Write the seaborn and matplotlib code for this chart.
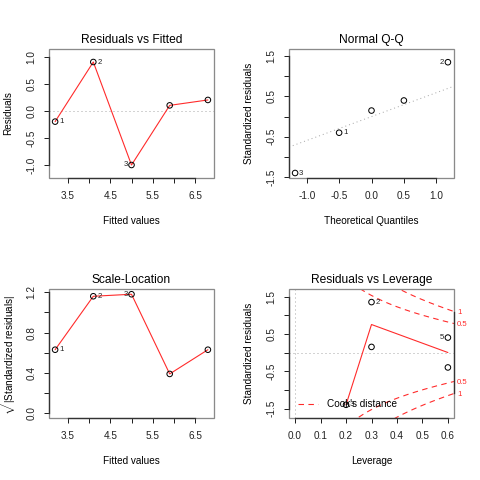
import numpy as np
import pandas as pd
import matplotlib
matplotlib.use("Agg")
import matplotlib.pyplot as plt
import seaborn as sns
from matplotlib.patches import Rectangle

# ---------------- data ----------------
obs_id = ["1", "2", "3", "4", "5"]
fitted = [3.2, 4.1, 5.0, 5.9, 6.8]
residuals = [-0.2, 0.9, -1.0, 0.1, 0.2]
std_resid = [-0.40, 1.35, -1.40, 0.15, 0.40]
sqrt_abs_std_resid = [0.63, 1.16, 1.18, 0.39, 0.63]
leverage = [0.6, 0.3, 0.2, 0.3, 0.6]
theor_quantiles = [-1.18, -0.50, 0.0, 0.50, 1.18]
qq_sample = [-1.40, -0.40, 0.15, 0.40, 1.35]
qq_id = ["3", "1", "4", "5", "2"]
lev_smooth_x = [0.2, 0.3, 0.6]
lev_smooth_y = [-1.40, 0.75, 0.0]
cook_levels = [0.5, 1.0]
cook_labels = ["0.5", "1"]
n_params = 2

titles = ["Residuals vs Fitted", "Normal Q-Q", "Scale-Location", "Residuals vs Leverage"]
fit_xticks = [3.5, 4.0, 4.5, 5.0, 5.5, 6.0, 6.5]
fit_xticklabels = ["3.5", "", "4.5", "", "5.5", "", "6.5"]
res_yticks = [-1.0, -0.5, 0.0, 0.5, 1.0]
res_yticklabels = ["-1.0", "-0.5", "0.0", "0.5", "1.0"]
std_yticks = [-1.5, -1.0, -0.5, 0.0, 0.5, 1.0, 1.5]
std_yticklabels = ["-1.5", "", "-0.5", "", "0.5", "", "1.5"]
qq_xticks = [-1.0, -0.5, 0.0, 0.5, 1.0]
qq_xticklabels = ["-1.0", "-0.5", "0.0", "0.5", "1.0"]
sl_yticks = [0.0, 0.2, 0.4, 0.6, 0.8, 1.0, 1.2]
sl_yticklabels = ["0.0", "", "0.4", "", "0.8", "", "1.2"]
lev_xticks = [0.0, 0.1, 0.2, 0.3, 0.4, 0.5, 0.6]
lev_xticklabels = ["0.0", "0.1", "0.2", "0.3", "0.4", "0.5", "0.6"]

# ---------------- style ----------------
sns.set_theme(style="white")
plt.rcParams["font.family"] = ["Liberation Sans", "DejaVu Sans"]
plt.rcParams["mathtext.fontset"] = "custom"
plt.rcParams["mathtext.rm"] = "Liberation Sans"
plt.rcParams["mathtext.it"] = "Liberation Sans:italic"
plt.rcParams["mathtext.bf"] = "Liberation Sans:bold"

PX = 0.72  # points per pixel at dpi 100
FS = 10 * PX
FS_TITLE = 12 * PX
FS_ID = 7.8 * PX
RED = "#ff2a2a"
GRAY = "#a8a8a8"

W = H = 480.0
fig = plt.figure(figsize=(4.8, 4.8), dpi=100)
fig.patch.set_facecolor("white")

BW, BH = 165.0, 129.0


def add_ax(left, top):
    return fig.add_axes([left / W, 1 - (top + BH) / H, BW / W, BH / H])


def style(ax, xlim, ylim, xticks, xtl, yticks, ytl, title, xlabel, ylabel):
    ax.set_facecolor("white")
    ax.set_xlim(xlim)
    ax.set_ylim(ylim)
    ax.set_xticks(xticks)
    ax.set_xticklabels(xtl)
    ax.set_yticks(yticks)
    ax.set_yticklabels(ytl, rotation=90, va="center")
    ax.tick_params(axis="both", which="both", direction="out", length=5 * PX,
                   width=1.0 * PX, color="#222222", pad=7.6 * PX,
                   labelsize=FS, labelcolor="#222222",
                   bottom=True, left=True, top=False, right=False)
    for s in ["top", "right"]:
        ax.spines[s].set_visible(False)
    for s in ["left", "bottom"]:
        ax.spines[s].set_color("#333333")
        ax.spines[s].set_linewidth(1.3 * PX)
        ax.spines[s].set_zorder(3)
    ax.spines["left"].set_bounds(yticks[0], yticks[-1])
    ax.spines["bottom"].set_bounds(xticks[0], xticks[-1])
    ax.add_patch(Rectangle((0, 0), 1, 1, transform=ax.transAxes, fill=False,
                           ec="#8a8a8a", lw=1.3 * PX, clip_on=False, zorder=2.4))
    ax.set_title(title, fontsize=FS_TITLE, y=1 + 9 / BH, va="center", pad=0,
                 color="black")
    ax.set_xlabel(xlabel, fontsize=FS, color="black")
    ax.set_ylabel(ylabel, fontsize=FS, color="black")
    ax.xaxis.set_label_coords(0.5, (178 - 221) / BH)
    ax.xaxis.label.set_va("center")
    ax.yaxis.set_label_coords((8.5 - 49) / BW, 0.5)
    ax.yaxis.label.set_va("center")
    ax.grid(False)


def points(ax, x, y):
    sns.scatterplot(x=x, y=y, ax=ax, marker="o", s=16, facecolor="none",
                    edgecolor="black", linewidth=1.0 * PX, zorder=5, legend=False)


def label_points(ax, x, y, labels, sides):
    for xi, yi, lab, side in zip(x, y, labels, sides):
        dx = 2.8 if side == "r" else -2.8
        ax.annotate(lab, (xi, yi), xytext=(dx, 0), textcoords="offset points",
                    ha="left" if side == "r" else "right", va="center",
                    fontsize=FS_ID, color="#222222", zorder=6,
                    annotation_clip=False)


# ---------- Panel 1: Residuals vs Fitted ----------
ax1 = add_ax(49, 49)
ax1.axhline(0, color=GRAY, lw=1.0 * PX, ls=(0, (1, 3)), zorder=1)
sns.lineplot(x=fitted, y=residuals, ax=ax1, color=RED, lw=1.1 * PX, sort=False,
             estimator=None, zorder=4)
points(ax1, fitted, residuals)
lab_idx1 = [0, 1, 2]
label_points(ax1, [fitted[i] for i in lab_idx1], [residuals[i] for i in lab_idx1],
             [obs_id[i] for i in lab_idx1], ["r", "r", "l"])
style(ax1, (3.056, 6.944), (-1.24, 1.14), fit_xticks, fit_xticklabels,
      res_yticks, res_yticklabels, titles[0], "Fitted values", "Residuals")

# ---------- Panel 2: Normal Q-Q ----------
ax2 = add_ax(289, 49)
q25, q75 = np.percentile(qq_sample, [25, 75])
slope = (q75 - q25) / (2 * 0.6744898)
icpt = q25 + slope * 0.6744898
xl = np.array([-1.274, 1.274])
ax2.plot(xl, icpt + slope * xl, color=GRAY, lw=1.0 * PX, ls=(0, (1, 3)), zorder=1)
points(ax2, theor_quantiles, qq_sample)
lab_idx2 = [0, 1, 4]
label_points(ax2, [theor_quantiles[i] for i in lab_idx2], [qq_sample[i] for i in lab_idx2],
             [qq_id[i] for i in lab_idx2], ["r", "r", "l"])
style(ax2, (-1.274, 1.274), (-1.524, 1.678), qq_xticks, qq_xticklabels,
      std_yticks, std_yticklabels, titles[1], "Theoretical Quantiles",
      "Standardized residuals")

# ---------- Panel 3: Scale-Location ----------
ax3 = add_ax(49, 289)
sns.lineplot(x=fitted, y=sqrt_abs_std_resid, ax=ax3, color=RED, lw=1.1 * PX,
             sort=False, estimator=None, zorder=4)
points(ax3, fitted, sqrt_abs_std_resid)
lab_idx3 = [0, 1, 2]
label_points(ax3, [fitted[i] for i in lab_idx3], [sqrt_abs_std_resid[i] for i in lab_idx3],
             [obs_id[i] for i in lab_idx3], ["r", "r", "l"])
style(ax3, (3.056, 6.944), (-0.047, 1.232), fit_xticks, fit_xticklabels,
      sl_yticks, sl_yticklabels, titles[2], "Fitted values",
      r"$\sqrt{|\mathrm{Standardized\ residuals}|}$")

# ---------- Panel 4: Residuals vs Leverage ----------
ax4 = add_ax(289, 289)
xlim4 = (-0.024, 0.624)
ylim4 = (-1.754, 1.701)
ax4.axhline(0, color=GRAY, lw=1.0 * PX, ls=(0, (1, 3)), zorder=1)
ax4.axvline(0, color=GRAY, lw=1.0 * PX, ls=(0, (1, 3)), zorder=1)
hh = np.linspace(0.003, xlim4[1], 200)
for k, lev in enumerate(cook_levels):
    cl = np.sqrt(lev * n_params * (1 - hh) / hh)
    ax4.plot(hh, cl, color=RED, lw=1.1 * PX, ls=(0, (5, 4)), zorder=2,
             label="Cook's distance" if k == 0 else None)
    ax4.plot(hh, -cl, color=RED, lw=1.1 * PX, ls=(0, (5, 4)), zorder=2)
sns.lineplot(x=lev_smooth_x, y=lev_smooth_y, ax=ax4, color=RED, lw=1.1 * PX,
             sort=False, estimator=None, zorder=4)
points(ax4, leverage, std_resid)
lab_idx4 = [1, 2, 4]
label_points(ax4, [leverage[i] for i in lab_idx4], [std_resid[i] for i in lab_idx4],
             [obs_id[i] for i in lab_idx4], ["r", "r", "l"])
style(ax4, xlim4, ylim4, lev_xticks, lev_xticklabels, std_yticks, std_yticklabels,
      titles[3], "Leverage", "Standardized residuals")
leg = ax4.legend(loc="lower left", bbox_to_anchor=(0.0, 0.0), frameon=False,
                 fontsize=FS, handlelength=2.0, handletextpad=0.9,
                 borderaxespad=0.5)
for t in leg.get_texts():
    t.set_color("black")

# right axis with Cook's levels
xmax = xlim4[1]
ymult = np.sqrt(n_params * (1 - xmax) / xmax)
aty = [np.sqrt(l) * ymult for l in cook_levels]
ax4r = ax4.twinx()
ax4r.set_ylim(ylim4)
ax4r.set_yticks(aty + [-a for a in aty])
ax4r.set_yticklabels(cook_labels + cook_labels)
ax4r.tick_params(axis="y", length=0, pad=3.0 * PX, labelsize=FS_ID, labelcolor=RED)
for s in ["top", "left", "bottom"]:
    ax4r.spines[s].set_visible(False)
ax4r.spines["right"].set_bounds(-max(aty), max(aty))
ax4r.spines["right"].set_color("#333333")
ax4r.spines["right"].set_linewidth(1.3 * PX)
ax4r.grid(False)

fig.savefig("out.png", dpi=100, facecolor="white")
